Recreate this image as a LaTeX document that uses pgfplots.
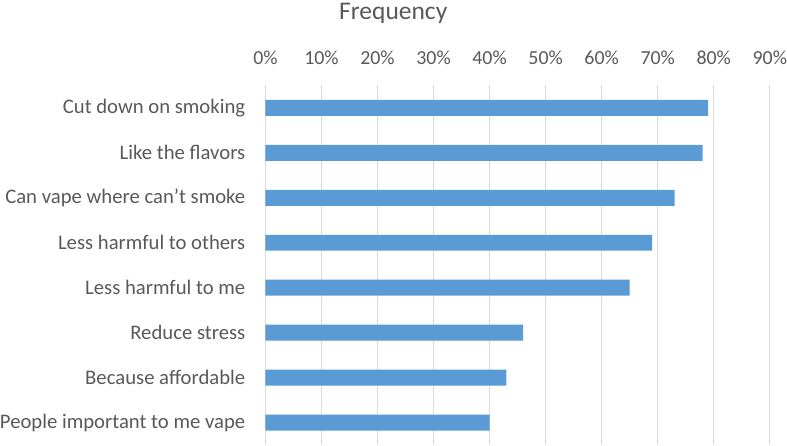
\documentclass[border=0pt]{standalone}
\usepackage{pgfplots}
\pgfplotsset{compat=1.18}
\usepackage{fontspec}
\setmainfont{Carlito}
\definecolor{barblue}{HTML}{5B9BD5}
\definecolor{gridgray}{HTML}{D9D9D9}
\definecolor{txtgray}{HTML}{595959}
\begin{document}
\begin{tikzpicture}
\begin{axis}[
  scale only axis,
  width=505bp, height=360bp,
  xmin=0, xmax=90,
  ymin=-0.5, ymax=7.5,
  y dir=reverse,
  xtick={0,10,...,90},
  xticklabel={\pgfmathprintnumber{\tick}\%},
  xticklabel pos=upper,
  ytick={0,...,7},
  yticklabels={Cut down on smoking, Like the flavors\ , Can vape where can’t smoke, Less harmful to others, Less harmful to me, Reduce stress, Because affordable, People important to me vape},
  major tick length=0pt,
  axis line style={draw=none},
  xmajorgrids,
  grid style={gridgray, line width=1.3bp},
  /pgf/number format/assume math mode=true,
  tick label style={text=txtgray},
  xticklabel style={font=\fontsize{20}{23}\selectfont, inner sep=0pt, yshift=21bp},
  yticklabel style={font=\fontsize{20.8}{24}\selectfont, inner sep=0pt, xshift=-20bp},
  clip=false,
]
\addplot[xbar, bar width=16bp, fill=barblue, draw=none] coordinates {
  (79,0) (78,1) (73,2) (69,3) (65,4) (46,5) (43,6) (40,7)
};
\node[font=\fontsize{25.6}{28}\selectfont, text=txtgray, anchor=center] at (rel axis cs:0.2535,1.2) {Frequency};
\end{axis}
\end{tikzpicture}
\end{document}
